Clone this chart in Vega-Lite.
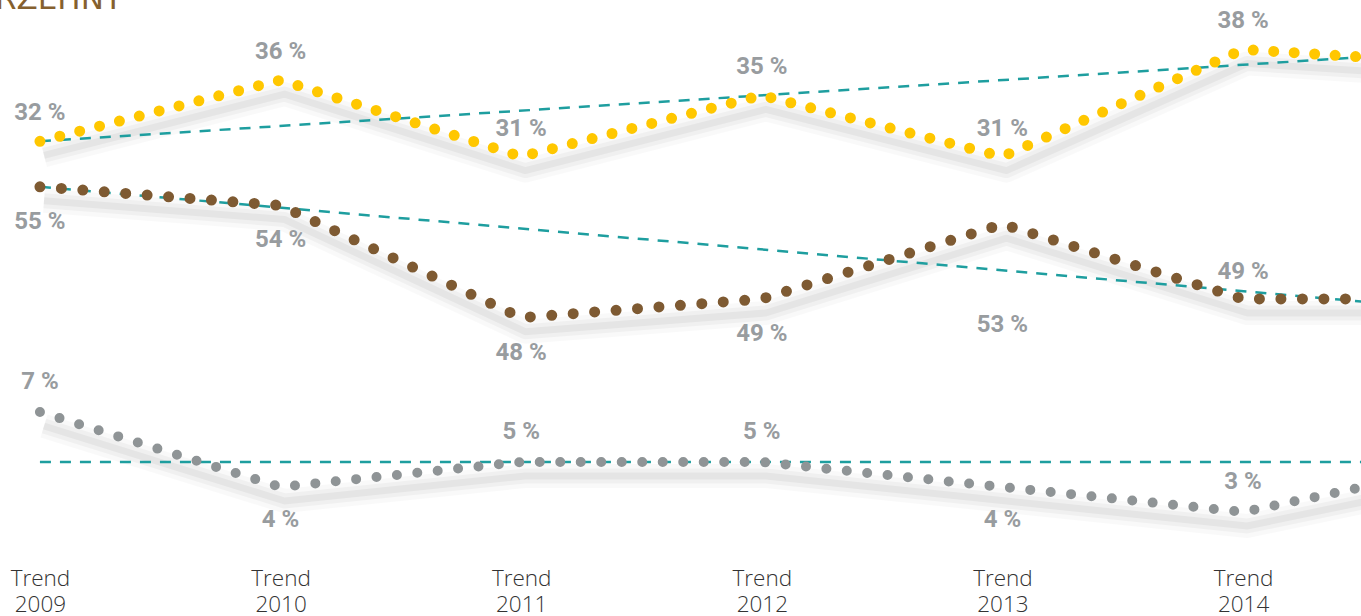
{
  "$schema": "https://vega.github.io/schema/vega-lite/v6.json",
  "width": 1361,
  "height": 560,
  "autosize": {"type": "none"},
  "padding": {"left": 0, "right": 0, "top": 0, "bottom": 56},
  "background": "white",
  "config": {"view": {"stroke": null}},
  "title": {"text": "RZEHNT", "anchor": "start", "orient": "top", "font": "DejaVu Sans", "fontSize": 31, "fontWeight": 500, "color": "#85602E", "baseline": "alphabetic", "offset": -40, "dx": -5},
  "datasets": {
    "series": [
      {"series": "yellow", "year": 2009, "value": 32, "label": "32 %"},
      {"series": "yellow", "year": 2010, "value": 36, "label": "36 %"},
      {"series": "yellow", "year": 2011, "value": 31, "label": "31 %"},
      {"series": "yellow", "year": 2012, "value": 35, "label": "35 %"},
      {"series": "yellow", "year": 2013, "value": 31, "label": "31 %"},
      {"series": "yellow", "year": 2014, "value": 38, "label": "38 %"},
      {"series": "yellow", "year": 2015, "value": 37, "label": "37 %"},
      {"series": "brown", "year": 2009, "value": 55, "label": "55 %"},
      {"series": "brown", "year": 2010, "value": 54, "label": "54 %"},
      {"series": "brown", "year": 2011, "value": 48, "label": "48 %"},
      {"series": "brown", "year": 2012, "value": 49, "label": "49 %"},
      {"series": "brown", "year": 2013, "value": 53, "label": "53 %"},
      {"series": "brown", "year": 2014, "value": 49, "label": "49 %"},
      {"series": "brown", "year": 2015, "value": 49, "label": "49 %"},
      {"series": "gray", "year": 2009, "value": 7, "label": "7 %"},
      {"series": "gray", "year": 2010, "value": 4, "label": "4 %"},
      {"series": "gray", "year": 2011, "value": 5, "label": "5 %"},
      {"series": "gray", "year": 2012, "value": 5, "label": "5 %"},
      {"series": "gray", "year": 2013, "value": 4, "label": "4 %"},
      {"series": "gray", "year": 2014, "value": 3, "label": "3 %"},
      {"series": "gray", "year": 2015, "value": 5, "label": "5 %"}
    ],
    "trend": [
      {"series": "yellow", "year": 2009, "value": 32},
      {"series": "yellow", "year": 2015, "value": 38.0},
      {"series": "brown", "year": 2009, "value": 55},
      {"series": "brown", "year": 2015, "value": 48.3},
      {"series": "gray", "year": 2009, "value": 5},
      {"series": "gray", "year": 2015, "value": 5}
    ]
  },
  "encoding": {
    "x": {
      "field": "year", "type": "quantitative",
      "scale": {"domain": [2008.834, 2014.49], "nice": false, "zero": false},
      "axis": {
        "values": [2009, 2010, 2011, 2012, 2013, 2014],
        "labelExpr": "['Trend', '' + datum.value]",
        "labelFont": "Open Sans", "labelFontSize": 22.5, "labelFontWeight": 300, "labelColor": "#333333",
        "labelLineHeight": 26, "labelPadding": 7, "labelOverlap": false, "labelFlush": false,
        "ticks": false, "domain": false, "grid": false, "title": null
      }
    }
  },
  "layer": [
    {
      "encoding": {"y": {"field": "value", "type": "quantitative", "scale": {"domain": [4.65, 41.23], "nice": false, "zero": false}, "axis": null}},
      "layer": [
        {"data": {"name": "series"}, "transform": [{"filter": "datum.series == 'yellow'"}],
         "mark": {"type": "line", "color": "#000000", "strokeWidth": 24, "strokeJoin": "round", "opacity": 0.025, "yOffset": 14, "xOffset": 4, "clip": true}},
        {"data": {"name": "series"}, "transform": [{"filter": "datum.series == 'yellow'"}],
         "mark": {"type": "line", "color": "#000000", "strokeWidth": 15, "strokeJoin": "round", "opacity": 0.035, "yOffset": 14, "xOffset": 4, "clip": true}},
        {"data": {"name": "series"}, "transform": [{"filter": "datum.series == 'yellow'"}],
         "mark": {"type": "line", "color": "#000000", "strokeWidth": 7, "strokeJoin": "round", "opacity": 0.045, "yOffset": 14, "xOffset": 4, "clip": true}},
        {"data": {"name": "trend"}, "transform": [{"filter": "datum.series == 'yellow'"}],
         "mark": {"type": "line", "color": "#1E9E9F", "strokeWidth": 2.5, "strokeDash": [11, 9], "clip": true}},
        {"data": {"name": "series"}, "transform": [{"filter": "datum.series == 'yellow'"}],
         "mark": {"type": "line", "color": "#FFC700", "strokeWidth": 11, "strokeCap": "round", "strokeJoin": "round", "strokeDash": [0, 20.5], "clip": true}},
        {"data": {"name": "series"}, "transform": [{"filter": "datum.series == 'yellow' && datum.year <= 2014"}],
         "mark": {"type": "text", "dy": -28, "font": "Roboto", "fontWeight": "bold", "fontSize": 24, "color": "#989C9F"},
         "encoding": {"text": {"field": "label"}}}
      ]
    },
    {
      "encoding": {"y": {"field": "value", "type": "quantitative", "scale": {"domain": [35.04, 64.99], "nice": false, "zero": false}, "axis": null}},
      "layer": [
        {"data": {"name": "series"}, "transform": [{"filter": "datum.series == 'brown'"}],
         "mark": {"type": "line", "color": "#000000", "strokeWidth": 24, "strokeJoin": "round", "opacity": 0.025, "yOffset": 14, "xOffset": 4, "clip": true}},
        {"data": {"name": "series"}, "transform": [{"filter": "datum.series == 'brown'"}],
         "mark": {"type": "line", "color": "#000000", "strokeWidth": 15, "strokeJoin": "round", "opacity": 0.035, "yOffset": 14, "xOffset": 4, "clip": true}},
        {"data": {"name": "series"}, "transform": [{"filter": "datum.series == 'brown'"}],
         "mark": {"type": "line", "color": "#000000", "strokeWidth": 7, "strokeJoin": "round", "opacity": 0.045, "yOffset": 14, "xOffset": 4, "clip": true}},
        {"data": {"name": "trend"}, "transform": [{"filter": "datum.series == 'brown'"}],
         "mark": {"type": "line", "color": "#1E9E9F", "strokeWidth": 2.5, "strokeDash": [11, 9], "clip": true}},
        {"data": {"name": "series"}, "transform": [{"filter": "datum.series == 'brown'"}],
         "mark": {"type": "line", "color": "#7E5A32", "strokeWidth": 11, "strokeCap": "round", "strokeJoin": "round", "strokeDash": [0, 21.5], "clip": true}},
        {"data": {"name": "series"}, "transform": [{"filter": "datum.series == 'brown' && datum.year <= 2012"}],
         "mark": {"type": "text", "dy": 35, "font": "Roboto", "fontWeight": "bold", "fontSize": 24, "color": "#989C9F"},
         "encoding": {"text": {"field": "label"}}},
        {"data": {"name": "series"}, "transform": [{"filter": "datum.series == 'brown' && datum.year == 2013"}],
         "mark": {"type": "text", "dy": 101, "font": "Roboto", "fontWeight": "bold", "fontSize": 24, "color": "#989C9F"},
         "encoding": {"text": {"field": "label"}}},
        {"data": {"name": "series"}, "transform": [{"filter": "datum.series == 'brown' && datum.year == 2014"}],
         "mark": {"type": "text", "dy": -27, "font": "Roboto", "fontWeight": "bold", "fontSize": 24, "color": "#989C9F"},
         "encoding": {"text": {"field": "label"}}}
      ]
    },
    {
      "encoding": {"y": {"field": "value", "type": "quantitative", "scale": {"domain": [1.08, 23.48], "nice": false, "zero": false}, "axis": null}},
      "layer": [
        {"data": {"name": "series"}, "transform": [{"filter": "datum.series == 'gray'"}],
         "mark": {"type": "line", "color": "#000000", "strokeWidth": 24, "strokeJoin": "round", "opacity": 0.025, "yOffset": 14, "xOffset": 4, "clip": true}},
        {"data": {"name": "series"}, "transform": [{"filter": "datum.series == 'gray'"}],
         "mark": {"type": "line", "color": "#000000", "strokeWidth": 15, "strokeJoin": "round", "opacity": 0.035, "yOffset": 14, "xOffset": 4, "clip": true}},
        {"data": {"name": "series"}, "transform": [{"filter": "datum.series == 'gray'"}],
         "mark": {"type": "line", "color": "#000000", "strokeWidth": 7, "strokeJoin": "round", "opacity": 0.045, "yOffset": 14, "xOffset": 4, "clip": true}},
        {"data": {"name": "trend"}, "transform": [{"filter": "datum.series == 'gray'"}],
         "mark": {"type": "line", "color": "#1E9E9F", "strokeWidth": 2.5, "strokeDash": [11, 9], "clip": true}},
        {"data": {"name": "series"}, "transform": [{"filter": "datum.series == 'gray'"}],
         "mark": {"type": "line", "color": "#8F9496", "strokeWidth": 10, "strokeCap": "round", "strokeJoin": "round", "strokeDash": [0, 20.5], "clip": true}},
        {"data": {"name": "series"}, "transform": [{"filter": "datum.series == 'gray' && (datum.year == 2009 || datum.year == 2011 || datum.year == 2012 || datum.year == 2014)"}],
         "mark": {"type": "text", "dy": -30, "font": "Roboto", "fontWeight": "bold", "fontSize": 24, "color": "#989C9F"},
         "encoding": {"text": {"field": "label"}}},
        {"data": {"name": "series"}, "transform": [{"filter": "datum.series == 'gray' && (datum.year == 2010 || datum.year == 2013)"}],
         "mark": {"type": "text", "dy": 33, "font": "Roboto", "fontWeight": "bold", "fontSize": 24, "color": "#989C9F"},
         "encoding": {"text": {"field": "label"}}}
      ]
    }
  ],
  "resolve": {"scale": {"y": "independent"}}
}
